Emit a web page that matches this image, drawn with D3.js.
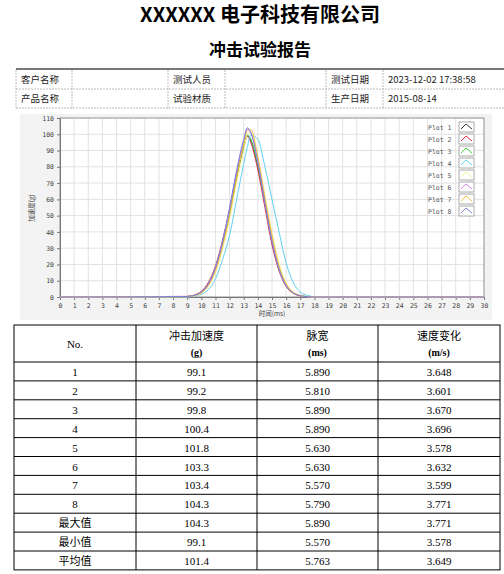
<!DOCTYPE html>
<html lang="zh">
<head>
<meta charset="utf-8">
<title>冲击试验报告</title>
<script src="https://cdn.jsdelivr.net/npm/d3@7"></script>
<style>
  body { margin: 0; background: #fff; }
  svg text { font-family: "Noto Sans CJK SC", "DejaVu Sans", sans-serif; }
</style>
</head>
<body>
<script>
// ---- data ----
var times = [0, 9, 9.5, 10, 10.5, 11, 11.5, 12, 12.5, 13, 13.25, 13.5, 14, 14.5, 15, 15.5, 16, 16.5, 17, 17.5, 18, 30];
var plotNames = ["Plot 1", "Plot 2", "Plot 3", "Plot 4", "Plot 5", "Plot 6", "Plot 7", "Plot 8"];
var plotColors = ["#333333", "#e0304a", "#40d040", "#60d0f0", "#f4f4a0", "#d080f0", "#f0c040", "#8080e0"];
var plot1 = [0, 0.3, 1, 3, 8, 18, 33, 52, 74, 92, 99, 96, 80, 57, 34, 17, 7, 2.5, 0.8, 0.2, 0, 0];
var plot2 = [0, 0.4, 1.2, 3.5, 9, 19, 35, 54, 76, 93, 99, 95, 78, 55, 32, 16, 6.5, 2.3, 0.7, 0.2, 0, 0];
var plot3 = [0, 0.3, 1, 3, 8, 18, 33, 52, 74, 93, 99.5, 97, 81, 58, 35, 18, 7.5, 2.7, 0.9, 0.2, 0, 0];
var plot4 = [0, 0.1, 0.5, 1.6, 4.5, 11, 23, 38, 60, 82, 92, 99.5, 97, 80, 60, 40, 21, 9, 3, 1, 0.2, 0];
var plot5 = [0, 0.2, 0.7, 2.2, 6.5, 15, 29, 48, 70, 90, 100, 101.5, 86, 63, 40, 21, 9, 3.2, 1, 0.3, 0, 0];
var plot6 = [0, 0.3, 1, 3, 8, 18, 34, 54, 77, 96, 103, 101, 83, 58, 35, 17, 7, 2.5, 0.8, 0.2, 0, 0];
var plot7 = [0, 0.2, 0.8, 2.5, 7, 16, 31, 50, 73, 94, 102, 103, 86, 61, 38, 19, 8, 2.8, 0.9, 0.2, 0, 0];
var plot8 = [0, 0.3, 1, 3, 8, 18, 34, 55, 78, 97, 104, 101, 83, 58, 34, 17, 7, 2.5, 0.8, 0.2, 0, 0];
var plots = [plot1, plot2, plot3, plot4, plot5, plot6, plot7, plot8];

var infoRows = [["客户名称", "", "测试人员", "", "测试日期", "2023-12-02 17:38:58"],
                ["产品名称", "", "试验材质", "", "生产日期", "2015-08-14"]];
var tableHeader = [["No.", ""], ["冲击加速度", "(g)"], ["脉宽", "(ms)"], ["速度变化", "(m/s)"]];
var rowLabels = ["1", "2", "3", "4", "5", "6", "7", "8", "最大值", "最小值", "平均值"];
var accel = ["99.1", "99.2", "99.8", "100.4", "101.8", "103.3", "103.4", "104.3", "104.3", "99.1", "101.4"];
var pulseWidth = ["5.890", "5.810", "5.890", "5.890", "5.630", "5.630", "5.570", "5.790", "5.890", "5.570", "5.763"];
var dv = ["3.648", "3.601", "3.670", "3.696", "3.578", "3.632", "3.599", "3.771", "3.771", "3.578", "3.649"];

var svg = d3.select("body").append("svg").attr("width", 504).attr("height", 574);

// ---- titles ----
svg.append("text").attr("x", 260).attr("y", 22).attr("text-anchor", "middle")
   .style("font-size", "20px").style("font-weight", "bold").text("XXXXXX 电子科技有限公司");
svg.append("text").attr("x", 260).attr("y", 56).attr("text-anchor", "middle")
   .style("font-size", "17px").style("font-weight", "bold").text("冲击试验报告");

// ---- info table ----
var infoX = [16, 72, 168, 225, 326, 383, 504];
svg.append("line").attr("x1", 16).attr("x2", 504).attr("y1", 69).attr("y2", 69)
   .attr("stroke", "#777").attr("stroke-width", 2);
infoRows.forEach(function(r, i) {
  var y0 = 70 + i * 19;
  svg.append("line").attr("x1", 16).attr("x2", 504).attr("y1", y0 + 19).attr("y2", y0 + 19)
     .attr("stroke", "#bbb").attr("stroke-dasharray", "2,1");
  r.forEach(function(t, j) {
    svg.append("text").attr("x", infoX[j] + 5).attr("y", y0 + 13)
       .style("font-size", "9.5px").attr("fill", "#222").text(t);
  });
});
infoX.slice(0, 6).forEach(function(x) {
  svg.append("line").attr("x1", x).attr("x2", x).attr("y1", 70).attr("y2", 108)
     .attr("stroke", "#bbb").attr("stroke-dasharray", "2,1");
});

// ---- chart ----
svg.append("rect").attr("x", 20).attr("y", 114).attr("width", 472).attr("height", 206).attr("fill", "#f3f3f3");
var x = d3.scaleLinear().domain([0, 30]).range([60, 484]);
var y = d3.scaleLinear().domain([0, 110]).range([297, 118]);
svg.append("rect").attr("x", 60).attr("y", 118).attr("width", 424).attr("height", 179).attr("fill", "#fff");
var g = svg.append("g");
d3.range(0, 31).forEach(function(t) {
  g.append("line").attr("x1", x(t)).attr("x2", x(t)).attr("y1", 118).attr("y2", 297).attr("stroke", "#e2e2e2");
});
d3.range(0, 111, 10).forEach(function(v) {
  g.append("line").attr("x1", 60).attr("x2", 484).attr("y1", y(v)).attr("y2", y(v)).attr("stroke", "#e2e2e2");
});
svg.append("rect").attr("x", 60).attr("y", 118).attr("width", 424).attr("height", 179)
   .attr("fill", "none").attr("stroke", "#999");

var xAxis = svg.append("g").attr("transform", "translate(0,297)")
   .call(d3.axisBottom(x).ticks(30).tickSize(3).tickFormat(d3.format("d")));
var yAxis = svg.append("g").attr("transform", "translate(60,0)")
   .call(d3.axisLeft(y).tickValues(d3.range(0, 111, 10)).tickSize(3));
[xAxis, yAxis].forEach(function(a) {
  a.selectAll("path,line").attr("stroke", "#777");
  a.selectAll("text").style("font-size", "6.5px").attr("fill", "#444").style("font-family", "DejaVu Sans Mono, monospace");
});
svg.append("text").attr("x", 272).attr("y", 316).attr("text-anchor", "middle")
   .style("font-size", "6.5px").attr("fill", "#444").text("时间(ms)");
svg.append("text").attr("transform", "translate(34,208) rotate(-90)").attr("text-anchor", "middle")
   .style("font-size", "6.5px").attr("fill", "#444").text("加速度(g)");

var line = d3.line().x(function(d, i) { return x(times[i]); }).y(function(d) { return y(d); })
   .curve(d3.curveMonotoneX);
plots.forEach(function(p, k) {
  svg.append("path").datum(p).attr("d", line).attr("fill", "none")
     .attr("stroke", plotColors[k]).attr("stroke-width", 1);
});

// legend
plotNames.forEach(function(n, k) {
  var ly = 127 + k * 12;
  svg.append("text").attr("x", 428).attr("y", ly + 3).style("font-size", "6.5px")
     .style("font-family", "DejaVu Sans Mono, monospace").attr("fill", "#555").text(n);
  svg.append("rect").attr("x", 459).attr("y", ly - 5).attr("width", 15).attr("height", 10)
     .attr("fill", "#fff").attr("stroke", "#aaa");
  svg.append("path").attr("d", "M461," + (ly + 2) + "L466," + (ly - 3) + "L472," + (ly + 2))
     .attr("fill", "none").attr("stroke", plotColors[k]);
});

// ---- results table ----
var colX = [14, 136, 257, 378, 500];
var tTop = 325, headH = 37, rowH = 18.9;
var tBottom = tTop + headH + rowH * rowLabels.length;
svg.append("rect").attr("x", 14).attr("y", tTop).attr("width", 486).attr("height", tBottom - tTop)
   .attr("fill", "none").attr("stroke", "#000");
colX.slice(1, 4).forEach(function(cx) {
  svg.append("line").attr("x1", cx).attr("x2", cx).attr("y1", tTop).attr("y2", tBottom).attr("stroke", "#000");
});
svg.append("line").attr("x1", 14).attr("x2", 500).attr("y1", tTop + headH).attr("y2", tTop + headH).attr("stroke", "#000");
tableHeader.forEach(function(h, j) {
  var cx = (colX[j] + colX[j + 1]) / 2;
  if (h[1] === "") {
    svg.append("text").attr("x", cx).attr("y", tTop + 23).attr("text-anchor", "middle")
       .style("font-size", "11px").style("font-family", "Liberation Serif, serif").text(h[0]);
  } else {
    svg.append("text").attr("x", cx).attr("y", tTop + 15).attr("text-anchor", "middle")
       .style("font-size", "11px").text(h[0]);
    svg.append("text").attr("x", cx).attr("y", tTop + 31).attr("text-anchor", "middle")
       .style("font-size", "10px").style("font-weight", "bold").style("font-family", "Liberation Serif, serif").text(h[1]);
  }
});
rowLabels.forEach(function(lbl, i) {
  var ry = tTop + headH + i * rowH;
  if (i > 0) svg.append("line").attr("x1", 14).attr("x2", 500).attr("y1", ry).attr("y2", ry).attr("stroke", "#000");
  [lbl, accel[i], pulseWidth[i], dv[i]].forEach(function(t, j) {
    svg.append("text").attr("x", (colX[j] + colX[j + 1]) / 2).attr("y", ry + 14).attr("text-anchor", "middle")
       .style("font-size", "11px").style("font-family", "Liberation Serif, Noto Sans CJK SC, serif").text(t);
  });
});
</script>
</body>
</html>
